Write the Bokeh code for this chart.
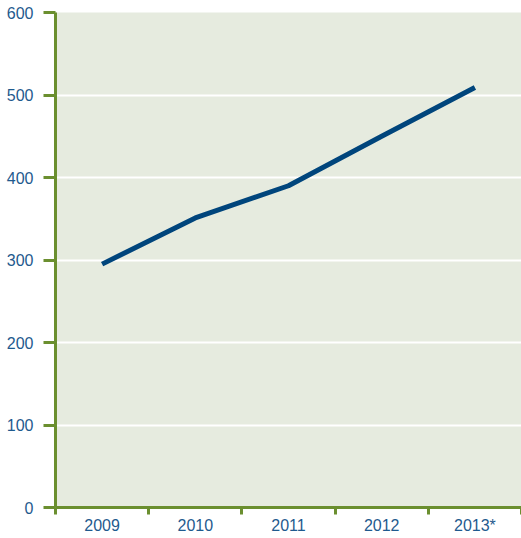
import numpy as np
from bokeh.plotting import figure
from bokeh.models import FixedTicker, Range1d
from bokeh.embed import file_html
from bokeh.resources import INLINE

years = ["2009", "2010", "2011", "2012", "2013*"]
values = [295, 351, 390, 450, 509]
y_ticks = [0, 100, 200, 300, 400, 500, 600]

GREEN = "#6b8f2f"
BLUE_TXT = "#1f5a8e"
LINE = "#00457c"
BG = "#e6ebdf"

x = np.arange(len(years)) + 0.5

p = figure(width=521, height=536, output_backend="svg", toolbar_location=None,
           x_range=Range1d(0, len(years)), y_range=Range1d(0, 600),
           min_border_left=55, min_border_right=0, min_border_top=12, min_border_bottom=28)
p.outline_line_color = None
p.background_fill_color = BG
p.border_fill_color = "white"

p.line(x, values, line_color=LINE, line_width=5)

p.xgrid.grid_line_color = None
p.ygrid.grid_line_color = "white"
p.ygrid.grid_line_width = 2
p.ygrid.ticker = FixedTicker(ticks=y_ticks)

xa = p.xaxis[0]
xa.ticker = FixedTicker(ticks=list(x), minor_ticks=list(range(len(years) + 1)))
xa.major_label_overrides = {float(xi): lab for xi, lab in zip(x, years)}
xa.major_tick_line_color = None
xa.major_tick_out = 7
xa.major_tick_in = 0
xa.minor_tick_line_color = GREEN
xa.minor_tick_line_width = 3
xa.minor_tick_out = 7
xa.minor_tick_in = 0
xa.axis_line_color = GREEN
xa.axis_line_width = 3
xa.major_label_text_font = "Liberation Sans"
xa.major_label_text_font_size = "16px"
xa.major_label_text_color = BLUE_TXT
xa.major_label_standoff = 2

ya = p.yaxis[0]
ya.ticker = FixedTicker(ticks=y_ticks)
ya.minor_tick_line_color = None
ya.major_tick_line_color = GREEN
ya.major_tick_line_width = 3
ya.major_tick_out = 12
ya.major_tick_in = 0
ya.axis_line_color = GREEN
ya.axis_line_width = 3
ya.major_label_text_font = "Liberation Sans"
ya.major_label_text_font_size = "16px"
ya.major_label_text_color = BLUE_TXT
ya.major_label_standoff = 10

open("out.html", "w").write(file_html(p, INLINE))
